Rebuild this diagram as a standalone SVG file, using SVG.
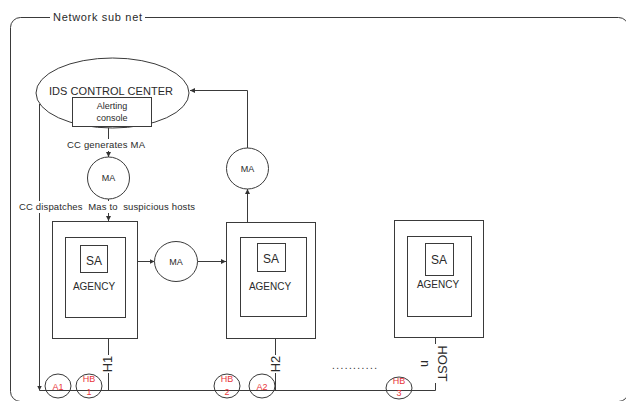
<svg xmlns="http://www.w3.org/2000/svg" width="626" height="401" viewBox="0 0 626 401">
<defs>
<marker id="arr" viewBox="0 0 6 6" refX="6" refY="3" markerWidth="5" markerHeight="5" orient="auto" markerUnits="userSpaceOnUse"><path d="M0,0 L6,3 L0,6 z" fill="#333"/></marker>
</defs>
<style>
.ln{fill:none;stroke:#3a3a3a;stroke-width:1}
.sh{fill:#fff;stroke:#3a3a3a;stroke-width:1}
.ho{fill:none;stroke:#3a3a3a;stroke-width:1}
.bg{fill:#fff;stroke:none}
.t{font-family:"Liberation Sans",Arial,sans-serif;fill:#2a2a2a}
.m{text-anchor:middle}
.r{font-family:"Liberation Sans",Arial,sans-serif;fill:#e8353a;font-size:9px;text-anchor:middle}
</style>
<rect width="626" height="401" fill="#fff"/>

<g id="frame">
<rect class="ho" x="10.5" y="17.5" width="618" height="384" rx="10"/>
<rect class="bg" x="50" y="10" width="95" height="14"/>
<text class="t" x="53" y="21" font-size="11" textLength="89">Network sub net</text>
</g>

<g id="connectors">
<line class="ln" x1="108.5" y1="126.5" x2="108.5" y2="157" marker-end="url(#arr)"/>
<line class="ln" x1="108.5" y1="199" x2="108.5" y2="221" marker-end="url(#arr)"/>
<line class="ln" x1="39.5" y1="104" x2="39.5" y2="390.5" marker-end="url(#arr)"/>
<line class="ln" x1="39.5" y1="390.5" x2="435.5" y2="390.5"/>
<line class="ln" x1="137.5" y1="261.5" x2="154.5" y2="261.5" marker-end="url(#arr)"/>
<line class="ln" x1="197.5" y1="261.5" x2="226" y2="261.5" marker-end="url(#arr)"/>
<line class="ln" x1="247.5" y1="222" x2="247.5" y2="189" marker-end="url(#arr)"/>
<polyline class="ln" points="247.5,148 247.5,90.5 190,90.5" marker-end="url(#arr)"/>
<line class="ln" x1="108.5" y1="339" x2="108.5" y2="390.5"/>
<line class="ln" x1="275.5" y1="338" x2="275.5" y2="390.5"/>
<line class="ln" x1="435.5" y1="338" x2="435.5" y2="390.5"/>
<rect class="bg" x="64" y="139" width="84" height="12"/>
<text class="t m" x="106" y="148" font-size="9.5" textLength="78">CC generates MA</text>
<rect class="bg" x="17" y="201" width="180" height="12"/>
<text class="t" x="19" y="210" font-size="9.5" textLength="176" style="white-space:pre">CC dispatches  Mas to  suspicious hosts</text>
<rect class="bg" x="100" y="355" width="13" height="18"/>
<text class="t m" transform="translate(112,364) rotate(-90)" font-size="13">H1</text>
<rect class="bg" x="267" y="355" width="14" height="18"/>
<text class="t m" transform="translate(280,364) rotate(-90)" font-size="13">H2</text>
<rect class="bg" x="420" y="344" width="30" height="39"/>
<text class="t m" transform="translate(438,363.5) rotate(90)" font-size="13">HOST</text>
<text class="t m" transform="translate(421,363.5) rotate(90)" font-size="12">n</text>
<text class="t" x="332" y="369" font-size="10" textLength="45" lengthAdjust="spacing">...........</text>
</g>

<g id="ids-control-center">
<ellipse class="sh" cx="112.5" cy="93" rx="76.5" ry="35"/>
<text class="t m" x="111" y="95" font-size="11" textLength="124">IDS CONTROL CENTER</text>
<rect class="sh" x="72.5" y="97.5" width="79" height="29"/>
<text class="t m" x="112" y="109" font-size="9">Alerting</text>
<text class="t m" x="112" y="121" font-size="9">console</text>
</g>

<g id="ma1">
<circle class="sh" cx="108.5" cy="178" r="21"/>
<text class="t m" x="108.5" y="181" font-size="9">MA</text>
</g>

<g id="ma2">
<ellipse class="sh" cx="176" cy="261.5" rx="21.5" ry="20"/>
<text class="t m" x="176" y="264.5" font-size="9">MA</text>
</g>

<g id="ma3">
<ellipse class="sh" cx="247.5" cy="168.5" rx="21" ry="20.5"/>
<text class="t m" x="247.5" y="171.5" font-size="9">MA</text>
</g>

<g id="host1">
<rect class="sh" x="52.5" y="221.5" width="85" height="117"/>
<rect class="sh" x="65.5" y="237.5" width="60" height="80"/>
<rect class="sh" x="80.5" y="245.5" width="27" height="27"/>
<text class="t m" x="94" y="265" font-size="12">SA</text>
<text class="t m" x="94" y="290" font-size="10">AGENCY</text>
</g>

<g id="host2">
<rect class="sh" x="226.5" y="222.5" width="89" height="116"/>
<rect class="sh" x="240.5" y="237.5" width="66" height="79"/>
<rect class="sh" x="257.5" y="243.5" width="28" height="28"/>
<text class="t m" x="271" y="263" font-size="12">SA</text>
<text class="t m" x="270" y="290" font-size="10">AGENCY</text>
</g>

<g id="hostn">
<rect class="sh" x="394.5" y="220.5" width="89" height="117"/>
<rect class="sh" x="407.5" y="236.5" width="64" height="80"/>
<rect class="sh" x="425.5" y="243.5" width="28" height="32"/>
<text class="t m" x="439" y="264" font-size="12">SA</text>
<text class="t m" x="438" y="288" font-size="10">AGENCY</text>
</g>

<g id="a1">
<ellipse class="ho" cx="58" cy="386" rx="13" ry="12"/>
<text class="r" x="58" y="389.5">A1</text>
</g>
<g id="hb1">
<ellipse class="ho" cx="89" cy="386" rx="13" ry="12"/>
<text class="r" x="89" y="382">HB</text>
<text class="r" x="89" y="394.5">1</text>
</g>
<g id="hb2">
<ellipse class="ho" cx="227" cy="386" rx="13" ry="12"/>
<text class="r" x="227" y="382">HB</text>
<text class="r" x="227" y="394.5">2</text>
</g>
<g id="a2">
<ellipse class="ho" cx="262" cy="386" rx="13" ry="12"/>
<text class="r" x="262" y="389.5">A2</text>
</g>
<g id="hb3">
<ellipse class="ho" cx="399" cy="388" rx="13" ry="11"/>
<text class="r" x="399" y="384">HB</text>
<text class="r" x="399" y="396">3</text>
</g>
</svg>
